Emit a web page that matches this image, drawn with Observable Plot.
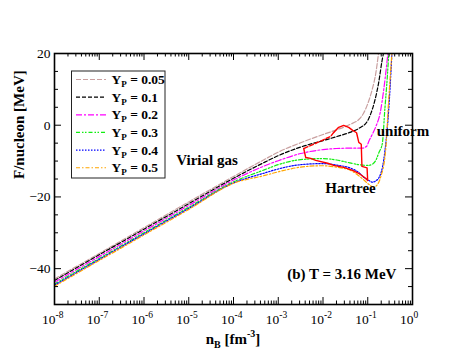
<!DOCTYPE html>
<html><head><meta charset="utf-8">
<script src="https://cdn.jsdelivr.net/npm/d3@7"></script>
<script src="https://cdn.jsdelivr.net/npm/@observablehq/plot@0.6"></script>
<style>body{margin:0;background:#fff} svg{display:block}</style>
</head><body><div id="chart"></div>
<script>
// ---- data ----
const seriesNames = ["0.05", "0.1", "0.2", "0.3", "0.4", "0.5"];
const seriesColors = ["#c9a0a0", "#000000", "#ff00ff", "#11ee11", "#0000ff", "#ffa500"];
const seriesDash = ["5,2", "4,2", "6,2,2,2", "4,2,1.5,1.5,1.5,2", "1.5,1.5", "4,2,1.5,2"];

const logN_005 = [-8, -6, -5, -4, -3.3, -3, -2.5, -2, -1.7, -1.4, -1.2, -1.1, -1.0, -0.9, -0.82, -0.76];
const F_005    = [-42.9, -28.6, -21.4, -14.3, -9.5, -7.5, -4.9, -2.6, -1.3, 0.2, 1.6, 3.2, 6.0, 10.0, 14.5, 20];
const logN_01  = [-8, -6, -5, -4, -3.3, -3, -2.5, -2, -1.7, -1.4, -1.2, -1.0, -0.93, -0.85, -0.76, -0.68, -0.65];
const F_01     = [-43.3, -29.0, -21.9, -14.8, -10.3, -8.5, -6.1, -4.3, -3.2, -2.0, -0.9, 1.3, 3.3, 6.5, 11.6, 18, 20];
const logN_02  = [-8, -6, -5, -4, -3.3, -3, -2.5, -2, -1.7, -1.4, -1.12, -1.02, -0.98, -0.9, -0.82, -0.72, -0.645, -0.58, -0.55];
const F_02     = [-43.8, -29.5, -22.4, -15.3, -11.3, -9.9, -7.9, -6.8, -6.5, -6.4, -6.4, -5.8, -4.6, -2.6, -0.4, 3.6, 9.7, 16.5, 20];
const logN_03  = [-8, -6, -5, -4, -3.3, -3, -2.5, -2, -1.7, -1.4, -1.2, -1.0, -0.9, -0.82, -0.75, -0.674, -0.62, -0.56, -0.53];
const F_03     = [-44.3, -30.0, -22.9, -15.8, -12.4, -11.0, -9.6, -9.3, -9.7, -10.5, -11.0, -11.2, -10.9, -9.8, -7.6, -5.1, 4.1, 14, 20];
const logN_04  = [-8, -6, -5, -4, -3.3, -3, -2.5, -2, -1.7, -1.38, -1.2, -1.09, -0.95, -0.9, -0.82, -0.757, -0.645, -0.533, -0.46];
const F_04     = [-44.6, -30.3, -23.2, -16.1, -13.3, -12.2, -11.0, -10.7, -11.1, -12.0, -13.2, -14.5, -15.6, -15.9, -15.5, -14.8, -9.8, 4.1, 20];
const logN_05  = [-8, -6, -5, -4, -3.3, -3, -2.5, -2, -1.7, -1.38, -1.16, -0.94, -0.87, -0.8, -0.712, -0.6, -0.533, -0.46];
const F_05     = [-44.9, -30.6, -23.5, -16.2, -14.0, -13.0, -11.7, -11.3, -11.7, -12.6, -14.5, -16.8, -17.3, -16.8, -14.5, -7, 6.9, 20];

// phase boundary (virial gas / Hartree)
const boundarySolidLogN = [-2.431, -2.386, -2.275, -2.163, -1.895, -1.761, -1.538, -1.337, -1.203, -1.047, -1.002, -1.015, -1.13, -1.145, -1.2, -1.25, -1.337, -1.426, -1.538, -1.650, -1.761];
const boundarySolidF    = [-6.5, -9.0, -9.25, -9.8, -10.6, -11.2, -11.75, -12.6, -13.4, -14.8, -15.4, -11.9, -11.5, -5.3, -4.8, -2.1, -1.45, -0.6, -0.06, -0.6, -2.0];
const boundaryDashLogN  = [-1.761, -1.828, -2.118, -2.431];
const boundaryDashF     = [-2.0, -3.1, -4.8, -6.5];

const xTickExponents = [-8, -7, -6, -5, -4, -3, -2, -1, 0];
const yTickLabels = [20, 0, -20, -40];
const yMinorTicks = d3.range(-45, 20, 5).filter(v => !yTickLabels.includes(v));

// ---- build tables ----
const logs = [logN_005, logN_01, logN_02, logN_03, logN_04, logN_05];
const Fs = [F_005, F_01, F_02, F_03, F_04, F_05];
const curves = seriesNames.map((s, i) => logs[i].map((l, j) => ({n: 10 ** l, F: Fs[i][j], s})));
const bSolid = boundarySolidLogN.map((l, j) => ({n: 10 ** l, F: boundarySolidF[j]}));
const bDash = boundaryDashLogN.map((l, j) => ({n: 10 ** l, F: boundaryDashF[j]}));
const xMajor = xTickExponents.map(e => 10 ** e);
const xMinor = xTickExponents.slice(0, -1).flatMap(e => d3.range(2, 10).map(k => k * 10 ** e));

const W = 463, H = 358, mL = 54, mR = 51, mT = 53, mB = 54;
const iW = W - mL - mR, iH = H - mT - mB;
const serif = "'Liberation Serif', 'Times New Roman', serif";

const marks = [];
curves.forEach((c, i) => marks.push(Plot.line(c, {x: "n", y: "F", stroke: seriesColors[i], strokeWidth: 1.2, strokeDasharray: seriesDash[i], curve: "monotone-x", clip: true})));
marks.push(Plot.line(bSolid, {x: "n", y: "F", stroke: "#ff0000", strokeWidth: 1.4}));
marks.push(Plot.line(bDash, {x: "n", y: "F", stroke: "#ff0000", strokeWidth: 1.4, strokeDasharray: "4,2"}));
// inward ticks on all four sides
marks.push(Plot.tickX(xMajor, {x: d => d, insetTop: iH - 7, stroke: "black"}));
marks.push(Plot.tickX(xMajor, {x: d => d, insetBottom: iH - 7, stroke: "black"}));
marks.push(Plot.tickX(xMinor, {x: d => d, insetTop: iH - 3.5, stroke: "black"}));
marks.push(Plot.tickX(xMinor, {x: d => d, insetBottom: iH - 3.5, stroke: "black"}));
marks.push(Plot.tickY(yMinorTicks, {y: d => d, insetRight: iW - 4, stroke: "black"}));
marks.push(Plot.tickY(yMinorTicks, {y: d => d, insetLeft: iW - 4, stroke: "black"}));
marks.push(Plot.tickY(yTickLabels, {y: d => d, insetRight: iW - 7, stroke: "black"}));
marks.push(Plot.tickY(yTickLabels, {y: d => d, insetLeft: iW - 7, stroke: "black"}));
marks.push(Plot.frame({stroke: "black", strokeWidth: 1.6}));
// axis labels
marks.push(Plot.axisY(yTickLabels, {tickSize: 0, tickPadding: 4, fontSize: 13.5, fontFamily: serif, fill: "black", label: null}));
marks.push(Plot.text(xTickExponents, {x: d => 10 ** d, text: () => "10", frameAnchor: "bottom", dy: 19, lineAnchor: "bottom", textAnchor: "end", dx: 1, fontSize: 13.5, fontFamily: serif, fill: "black"}));
marks.push(Plot.text(xTickExponents, {x: d => 10 ** d, text: d => String(d), frameAnchor: "bottom", dy: 13, lineAnchor: "bottom", textAnchor: "start", dx: 1, fontSize: 9.5, fontFamily: serif, fill: "black"}));
marks.push(Plot.text(["F/nucleon [MeV]"], {frameAnchor: "left", rotate: -90, dx: -35, fontWeight: "bold", fontSize: 15, fontFamily: serif, fill: "black"}));
// annotations
const bold = {fontWeight: "bold", fontSize: 15, fontFamily: serif, fill: "black", textAnchor: "start", lineAnchor: "bottom"};
marks.push(Plot.text(["Virial gas"], {x: 10 ** -5.28, y: -11.2, ...bold}));
marks.push(Plot.text(["uniform"], {x: 10 ** -0.80, y: -2.9, ...bold}));
marks.push(Plot.text(["Hartree"], {x: 10 ** -1.95, y: -19.0, ...bold}));
marks.push(Plot.text(["(b) T = 3.16 MeV"], {x: 10 ** -2.80, y: -43.0, ...bold}));

const svg = Plot.plot({
  width: W, height: H, marginLeft: mL, marginRight: mR, marginTop: mT, marginBottom: mB,
  style: {fontFamily: serif, fontSize: "14px", background: "white", color: "black"},
  x: {type: "log", domain: [1e-8, 1], axis: null},
  y: {domain: [-50, 20], axis: null},
  marks
});

const root = d3.select(svg);
// x axis title with sub/superscript
const xt = root.append("text").attr("x", mL + iW / 2).attr("y", 344).attr("text-anchor", "middle")
  .attr("font-family", serif).attr("font-weight", "bold").attr("font-size", 15).attr("fill", "black");
xt.append("tspan").text("n");
xt.append("tspan").text("B").attr("font-size", 10).attr("dy", 4);
xt.append("tspan").text(" [fm").attr("dy", -4);
xt.append("tspan").text("-3").attr("font-size", 10).attr("dy", -7);
xt.append("tspan").text("]").attr("dy", 7);

// legend
const lg = root.append("g");
lg.append("rect").attr("x", 71.5).attr("y", 71).attr("width", 93.5).attr("height", 107)
  .attr("fill", "white").attr("stroke", "#222").attr("stroke-width", 1);
seriesNames.forEach((s, i) => {
  const cy = 79.5 + i * 17.65;
  lg.append("line").attr("x1", 76).attr("x2", 106).attr("y1", cy).attr("y2", cy)
    .attr("stroke", seriesColors[i]).attr("stroke-width", 1.2).attr("stroke-dasharray", seriesDash[i]);
  const t = lg.append("text").attr("x", 111.5).attr("y", cy + 4.5).attr("text-anchor", "start")
    .attr("font-family", serif).attr("font-weight", "bold").attr("font-size", 13.5).attr("fill", "black");
  t.append("tspan").text("Y");
  t.append("tspan").text("P").attr("font-size", 9).attr("dy", 3);
  t.append("tspan").text(" = " + s).attr("dy", -3);
});

document.getElementById("chart").append(svg);
</script>
</body></html>
